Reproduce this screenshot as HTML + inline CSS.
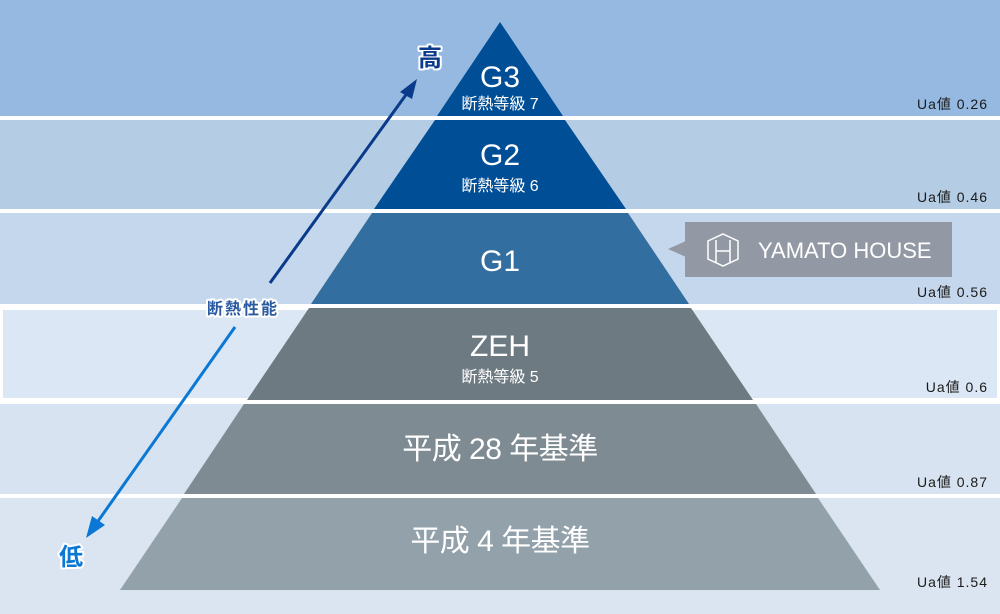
<!DOCTYPE html>
<html><head><meta charset="utf-8"><style>
html,body{margin:0;padding:0;width:1000px;height:614px;overflow:hidden;background:#fff}
svg{display:block}
text{font-family:"Liberation Sans","Noto Sans CJK JP",sans-serif}
</style></head><body>
<svg width="1000" height="614" viewBox="0 0 1000 614" xmlns="http://www.w3.org/2000/svg">
<rect x="0" y="0" width="1000" height="116" fill="#95b9e0"/>
<rect x="0" y="120" width="1000" height="89" fill="#b4cde4"/>
<rect x="0" y="213" width="1000" height="91" fill="#c4d7ec"/>
<rect x="0" y="308" width="1000" height="92" fill="#fff"/>
<rect x="3" y="310" width="994" height="88" fill="#dbe7f4"/>
<rect x="0" y="404" width="1000" height="90" fill="#d7e3f0"/>
<rect x="0" y="498" width="1000" height="116" fill="#dbe5f1"/>
<polygon points="500,22 563,116 437,116" fill="#004e96"/>
<polygon points="435,120 565,120 626,209 374,209" fill="#004e96"/>
<polygon points="372,213 628,213 689,304 311,304" fill="#336ea0"/>
<polygon points="309,308 691,308 753,400 247,400" fill="#6e7a82"/>
<polygon points="244,404 756,404 816,494 184,494" fill="#7f8b93"/>
<polygon points="182,498 818,498 880,590 120,590" fill="#93a1aa"/>
<g fill="#fff" text-anchor="middle">
<text x="500" y="87" font-size="30">G3</text>
<text x="500" y="109" font-size="16">断熱等級 7</text>
<text x="500" y="165" font-size="30">G2</text>
<text x="500" y="191" font-size="16">断熱等級 6</text>
<text x="500" y="271" font-size="30">G1</text>
<text x="500" y="356" font-size="30">ZEH</text>
<text x="500" y="382" font-size="16">断熱等級 5</text>
<text x="500" y="459" font-size="30" letter-spacing="-0.5">平成 28 年基準</text>
<text x="500" y="551" font-size="30" letter-spacing="-0.5">平成 4 年基準</text>
</g>
<g fill="#1a1a1a" text-anchor="end" font-size="14" letter-spacing="1">
<text x="988" y="109">Ua値 0.26</text>
<text x="988" y="202">Ua値 0.46</text>
<text x="988" y="297">Ua値 0.56</text>
<text x="988" y="392">Ua値 0.6</text>
<text x="988" y="487">Ua値 0.87</text>
<text x="988" y="587">Ua値 1.54</text>
</g>
<polygon points="668,249 686,241 686,257" fill="#9399a4"/>
<rect x="685" y="222" width="267" height="55" fill="#9399a4"/>
<g stroke="#fff" stroke-width="1.5" fill="none">
<polygon points="723,234 738,241 738,259 723,266 708,259 708,241"/>
<path d="M716,240 V262 M716,251 H730 M730,240 V262"/>
</g>
<text x="758" y="258" font-size="22" fill="#fff">YAMATO HOUSE</text>
<line x1="270" y1="283" x2="408" y2="92" stroke="#0a3a8a" stroke-width="3"/>
<polygon points="417,79 400,92 412,99" fill="#0a3a8a"/>
<line x1="235" y1="327" x2="96" y2="524" stroke="#0a78d4" stroke-width="3"/>
<polygon points="86,538 92,516 105,525" fill="#0a78d4"/>
<g font-weight="bold" text-anchor="middle" stroke="#fff" stroke-width="4" paint-order="stroke" stroke-linejoin="round">
<text x="430" y="66" font-size="24" fill="#0a3a8a">高</text>
<text x="71" y="565" font-size="24" fill="#0a78d4">低</text>
<text x="243" y="314" font-size="16" fill="#2a5aa0" letter-spacing="2">断熱性能</text>
</g>
</svg>
</body></html>
